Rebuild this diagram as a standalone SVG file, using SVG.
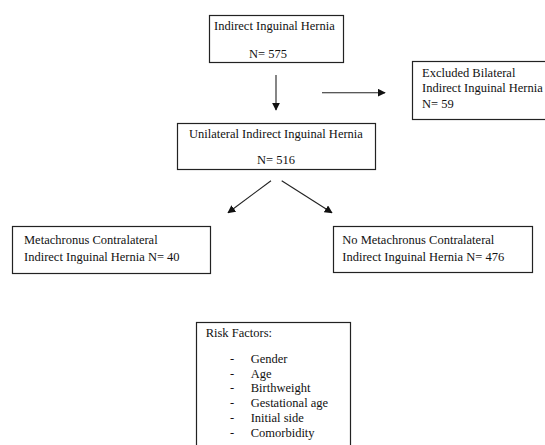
<svg xmlns="http://www.w3.org/2000/svg" width="545" height="445" viewBox="0 0 545 445">
<defs>
<style>
.box{fill:#fff;stroke:#222;stroke-width:1.2}
text{font-family:"Liberation Serif","Times New Roman",serif;font-size:12.5px;fill:#111}
.c{text-anchor:middle}
.conn line{stroke:#222;stroke-width:1.1}
</style>
<marker id="ah" viewBox="0 0 10 10" refX="9" refY="5" markerWidth="8" markerHeight="8" markerUnits="userSpaceOnUse" orient="auto">
<path d="M0,0 L10,5 L0,10 Z" fill="#111"/>
</marker>
</defs>
<rect width="545" height="445" fill="#fff"/>
<g id="n-indirect">
<rect class="box" x="209.5" y="15.5" width="134" height="47"/>
<text x="214" y="30">Indirect Inguinal Hernia</text>
<text class="c" x="268" y="57.5">N= 575</text>
</g>
<g id="n-excluded">
<rect class="box" x="412.5" y="61.5" width="140" height="58"/>
<text x="422" y="76.5">Excluded Bilateral</text>
<text x="422" y="92.3">Indirect Inguinal Hernia</text>
<text x="422" y="107.5">N= 59</text>
</g>
<g id="n-unilateral">
<rect class="box" x="177.5" y="123.5" width="198" height="46"/>
<text x="189" y="137.5">Unilateral Indirect Inguinal Hernia</text>
<text class="c" x="276" y="164">N= 516</text>
</g>
<g id="n-meta">
<rect class="box" x="12.5" y="226.5" width="198" height="47"/>
<text x="24" y="244.3">Metachronus Contralateral</text>
<text x="24" y="260.7">Indirect Inguinal Hernia N= 40</text>
</g>
<g id="n-nometa">
<rect class="box" x="333.5" y="226.5" width="199" height="46"/>
<text x="342.3" y="244.3">No Metachronus Contralateral</text>
<text x="342.3" y="260.7">Indirect Inguinal Hernia N= 476</text>
</g>
<g id="n-risk">
<rect class="box" x="196.5" y="322.5" width="154" height="130"/>
<text x="205.7" y="337">Risk Factors:</text>
<text x="230" y="362.7">-</text><text x="250.7" y="362.7">Gender</text>
<text x="230" y="377.5">-</text><text x="250.7" y="377.5">Age</text>
<text x="230" y="392.3">-</text><text x="250.7" y="392.3">Birthweight</text>
<text x="230" y="407.1">-</text><text x="250.7" y="407.1">Gestational age</text>
<text x="230" y="421.9">-</text><text x="250.7" y="421.9">Initial side</text>
<text x="230" y="436.9">-</text><text x="250.7" y="436.9">Comorbidity</text>
</g>
<g class="conn" id="connectors">
<line x1="276" y1="75" x2="276" y2="110" marker-end="url(#ah)"/>
<line x1="322" y1="92.7" x2="385" y2="92.7" marker-end="url(#ah)"/>
<line x1="271" y1="180.7" x2="228" y2="212.7" marker-end="url(#ah)"/>
<line x1="281.7" y1="180.7" x2="332" y2="212.7" marker-end="url(#ah)"/>
</g>
</svg>
